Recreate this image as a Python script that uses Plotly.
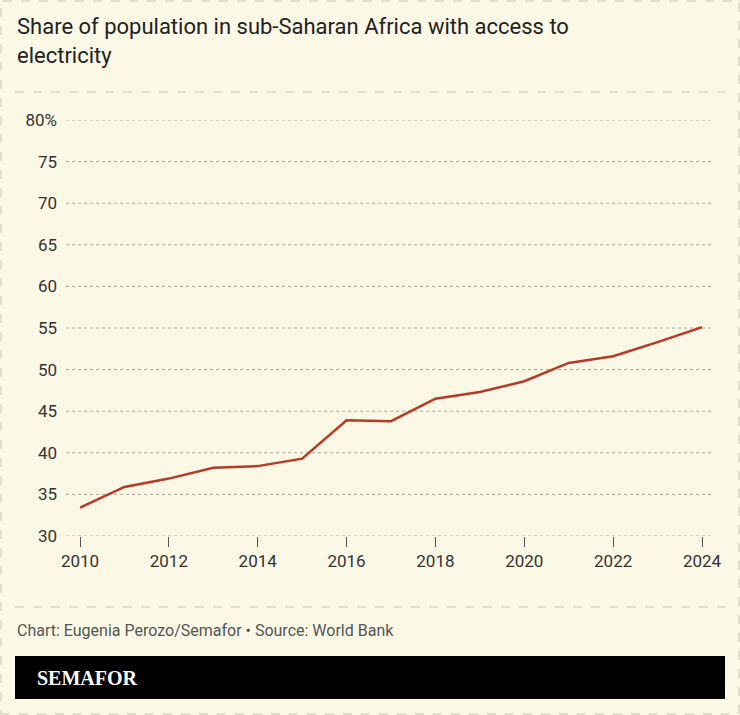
import plotly.graph_objects as go

years = list(range(2010, 2025))
share = [33.4, 35.9, 36.9, 38.2, 38.4, 39.3, 43.9, 43.8, 46.5, 47.3, 48.6, 50.8, 51.6, 53.3, 55.1]
y_ticks = [30, 35, 40, 45, 50, 55, 60, 65, 70, 75, 80]
y_labels = [str(v) for v in y_ticks[:-1]] + ["80%"]
x_ticks = list(range(2010, 2025, 2))

W, H = 740, 715
L, R, T, B = 80, 38, 120, 179
PW, PH = W - L - R, H - T - B
bg = "#FBF9E6"
fig = go.Figure(go.Scatter(x=years, y=share, mode="lines", cliponaxis=False,
                           line=dict(color="#B83A26", width=2.5), hoverinfo="skip"))

def px(x): return (x - L) / PW
def py(y): return (H - B - y) / PH

shapes = [
    dict(type="rect", xref="paper", yref="paper", x0=px(1), x1=px(739), y0=py(714), y1=py(1),
         line=dict(color="#C9C5B5", width=1, dash="dash"), layer="below"),
    dict(type="line", xref="paper", yref="paper", x0=px(15), x1=px(725), y0=py(92), y1=py(92),
         line=dict(color="#C9C5B5", width=1, dash="dash")),
    dict(type="line", xref="paper", yref="paper", x0=px(15), x1=px(725), y0=py(607), y1=py(607),
         line=dict(color="#C9C5B5", width=1, dash="dash")),
    dict(type="rect", xref="paper", yref="paper", x0=px(15), x1=px(725), y0=py(699), y1=py(656),
         fillcolor="black", line=dict(color="black", width=0)),
]
for v in y_ticks:
    shapes.append(dict(type="line", xref="paper", yref="y", x0=px(66), x1=px(712), y0=v, y1=v,
                       line=dict(color="#A9A698", width=1, dash="dot"), layer="below"))

fig.update_layout(
    width=W, height=H, paper_bgcolor=bg, plot_bgcolor=bg,
    margin=dict(l=L, r=R, t=T, b=B, autoexpand=False),
    showlegend=False,
    font=dict(family="Roboto", color="#333333", size=17),
    xaxis=dict(range=[2010, 2024], tickvals=x_ticks, showgrid=False, zeroline=False,
               showline=False, ticks="outside", ticklen=10, tickwidth=1,
               tickcolor="#555", tickfont=dict(size=17, color="#333")),
    yaxis=dict(range=[30, 80], tickvals=y_ticks, ticktext=y_labels, showgrid=False,
               zeroline=False, ticks="", ticklabelstandoff=22,
               tickfont=dict(size=17, color="#333")),
    shapes=shapes,
    annotations=[
        dict(text="Share of population in sub-Saharan Africa with access to<br>electricity",
             xref="paper", yref="paper", x=px(15), y=py(12), xanchor="left", yanchor="top",
             align="left", showarrow=False, font=dict(size=22, color="#222")),
        dict(text="Chart: Eugenia Perozo/Semafor • Source: World Bank",
             xref="paper", yref="paper", x=px(15), y=py(630), xanchor="left", yanchor="middle",
             showarrow=False, font=dict(size=16, color="#555")),
        dict(text="<b>SEMAFOR</b>", xref="paper", yref="paper", x=px(35), y=py(678),
             xanchor="left", yanchor="middle", showarrow=False,
             font=dict(size=20, color="white", family="Liberation Serif")),
    ],
)
fig.write_html("out.html", config={"displayModeBar": False},
               post_script="document.body.style.margin='0px';")
